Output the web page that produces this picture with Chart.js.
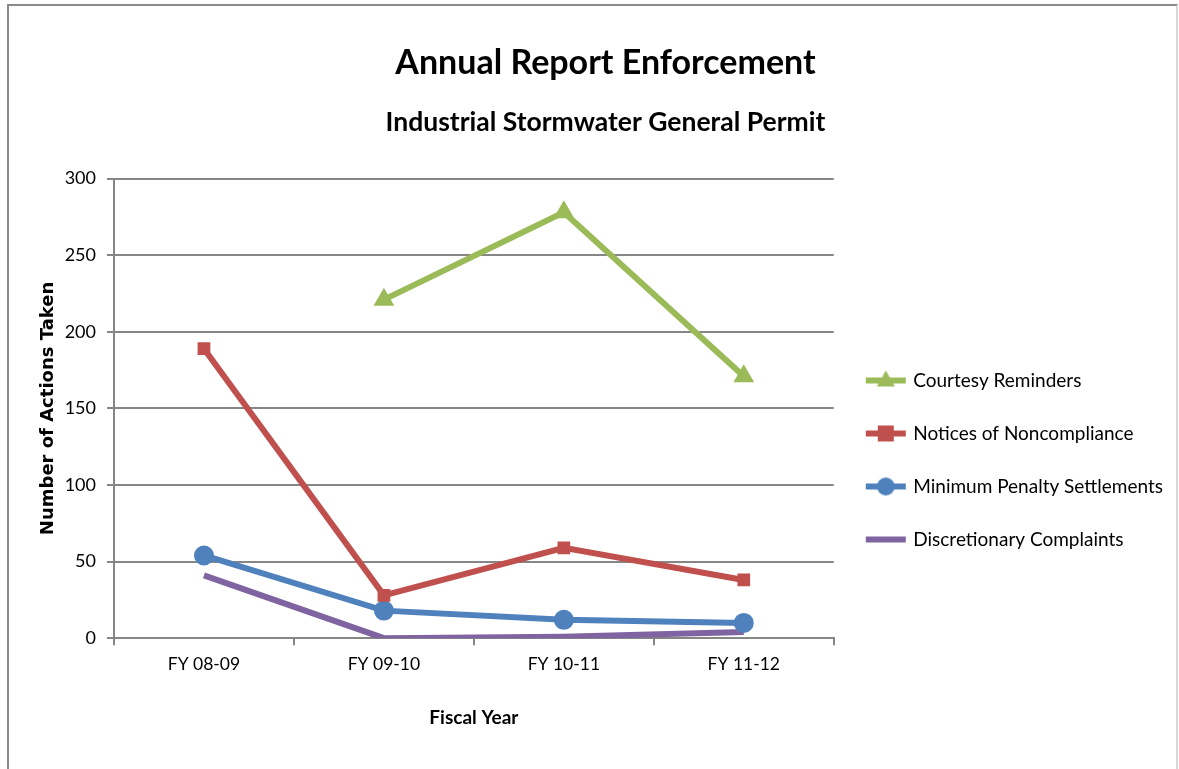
<!DOCTYPE html>
<html>
<head>
<meta charset="utf-8">
<script src="https://cdn.jsdelivr.net/npm/chart.js@4"></script>
<style>
  html, body { margin: 0; padding: 0; background: #fff; }
  #wrap { position: relative; width: 1179px; height: 769px; }
  #frame { position: absolute; left: 7px; top: 4px; right: 1px; bottom: -10px; border: 2px solid #8a8a8a; border-right-color: #d8d8d8; pointer-events: none; }
  canvas { position: absolute; left: 0; top: 0; }
</style>
</head>
<body>
<div id="wrap">
  <canvas id="myChart" width="1179" height="769"></canvas>
  <div id="frame"></div>
</div>
<script>
const years = ["FY 08-09", "FY 09-10", "FY 10-11", "FY 11-12"];
const courtesyReminders = [null, 221, 278, 171];
const noticesNoncompliance = [189, 28, 59, 38];
const minPenaltySettlements = [54, 18, 12, 10];
const discretionaryComplaints = [41, 0, 1, 4];
const yTicks = [0, 50, 100, 150, 200, 250, 300];

const calibri = "Lato, 'Open Sans', sans-serif";

// little line + marker picture for each legend entry
function legendIcon(color, style) {
  const c = document.createElement('canvas');
  c.width = 42; c.height = 22;
  const g = c.getContext('2d');
  g.strokeStyle = color; g.fillStyle = color; g.lineWidth = 6;
  g.beginPath(); g.moveTo(1, 11); g.lineTo(41, 11); g.stroke();
  if (style === 'triangle') {
    g.beginPath(); g.moveTo(21, 1); g.lineTo(30, 17); g.lineTo(12, 17); g.closePath(); g.fill();
  } else if (style === 'rect') {
    g.fillRect(13, 3, 16, 16);
  } else if (style === 'circle') {
    g.beginPath(); g.arc(21, 11, 9, 0, Math.PI * 2); g.fill();
  }
  return c;
}

const series = [
  { label: 'Courtesy Reminders', data: courtesyReminders, color: '#9bbb59', style: 'triangle', r: 12 },
  { label: 'Notices of Noncompliance', data: noticesNoncompliance, color: '#c0504d', style: 'rect', r: 9 },
  { label: 'Minimum Penalty Settlements', data: minPenaltySettlements, color: '#4f81bd', style: 'circle', r: 10 },
  { label: 'Discretionary Complaints', data: discretionaryComplaints, color: '#8064a2', style: false, r: 0 }
];

const bgPlugin = {
  id: 'bg',
  beforeDraw(chart) {
    const ctx = chart.ctx;
    ctx.save();
    ctx.fillStyle = '#fff';
    ctx.fillRect(0, 0, chart.width, chart.height);
    ctx.restore();
  }
};

const ctx = document.getElementById('myChart');
const myChart = new Chart(ctx, {
  type: 'line',
  data: {
    labels: years,
    datasets: series.map(s => ({
      label: s.label,
      data: s.data,
      borderColor: s.color,
      backgroundColor: s.color,
      borderWidth: 6,
      pointStyle: s.style,
      pointRadius: s.r,
      pointHoverRadius: s.r,
      pointBorderWidth: 0,
      tension: 0,
      spanGaps: false,
      icon: legendIcon(s.color, s.style)
    }))
  },
  options: {
    responsive: false,
    animation: false,
    layout: { padding: { left: 38, right: 6, top: 43, bottom: 40 } },
    plugins: {
      title: {
        display: true,
        text: 'Annual Report Enforcement',
        color: '#000',
        font: { family: calibri, size: 34, weight: 'bold' },
        padding: { top: 0, bottom: 23 }
      },
      subtitle: {
        display: true,
        text: 'Industrial Stormwater General Permit',
        color: '#000',
        font: { family: calibri, size: 26.5, weight: 'bold' },
        padding: { top: 0, bottom: 40 }
      },
      legend: {
        position: 'right',
        maxWidth: 351,
        // empty legend title only pushes the entries down
        title: { display: true, text: '', font: { size: 10 }, padding: { top: 136, bottom: 0 } },
        labels: {
          color: '#000',
          font: { family: calibri, size: 19 },
          usePointStyle: true,
          pointStyleWidth: 36,
          boxHeight: 22,
          padding: 34,
          generateLabels(chart) {
            return chart.data.datasets.map((d, i) => ({
              text: d.label,
              pointStyle: d.icon,
              fillStyle: d.backgroundColor,
              strokeStyle: d.borderColor,
              fontColor: '#000',
              lineWidth: 0,
              hidden: false,
              datasetIndex: i
            }));
          }
        }
      },
      tooltip: { enabled: false }
    },
    scales: {
      x: {
        offset: true,
        grid: { display: true, drawOnChartArea: false, color: '#868686', lineWidth: 2, tickLength: 7, offset: true },
        border: { color: '#868686', width: 2 },
        ticks: { color: '#000', font: { family: calibri, size: 17.5 }, padding: 9 },
        title: {
          display: true,
          text: 'Fiscal Year',
          color: '#000',
          font: { family: calibri, size: 19, weight: 'bold' },
          padding: { top: 22, bottom: 0 }
        }
      },
      y: {
        min: 0,
        max: 300,
        afterBuildTicks(axis) { axis.ticks = yTicks.map(v => ({ value: v })); },
        afterFit(axis) { axis.width = 76; },
        grid: { color: '#868686', lineWidth: 2, tickLength: 7 },
        border: { color: '#868686', width: 2 },
        ticks: { color: '#000', font: { family: calibri, size: 18 }, padding: 11 },
        title: {
          display: true,
          text: 'Number of Actions Taken',
          color: '#000',
          font: { family: "'DejaVu Sans', sans-serif", size: 18, weight: 'bold' },
          padding: { top: 0, bottom: 7 }
        }
      }
    }
  },
  plugins: [bgPlugin]
});
</script>
</body>
</html>
